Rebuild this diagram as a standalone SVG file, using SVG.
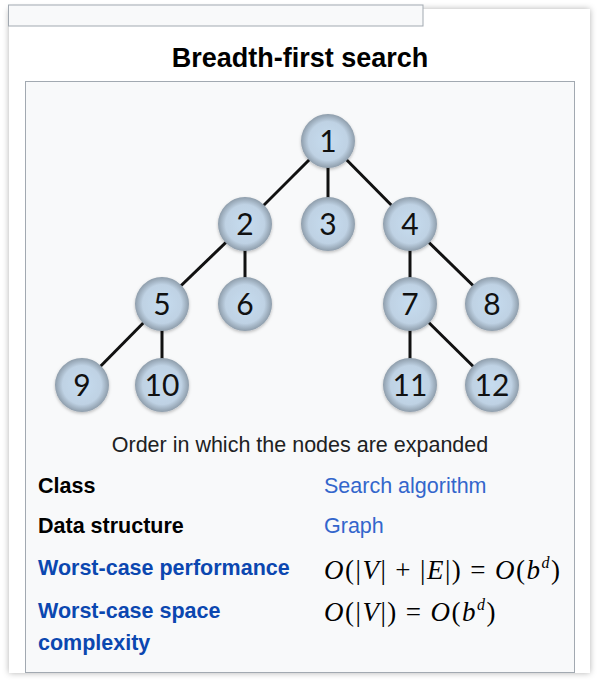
<svg xmlns="http://www.w3.org/2000/svg" width="598" height="682" viewBox="0 0 598 682">
<style>
.edge{stroke:#111;stroke-width:3;fill:none}
.node circle{fill:url(#ng);filter:url(#ns)}
.node text{font-family:Lato,"Liberation Sans",sans-serif;font-size:30px;fill:#111;text-anchor:middle}
.lbl{font-family:"Liberation Sans",Arial,sans-serif;font-size:21.5px;font-weight:bold;fill:#000}
.lnk{fill:#0b47b0}
.val{font-family:"Liberation Sans",Arial,sans-serif;font-size:21.5px;fill:#3366cc}
.math{font-family:"Liberation Serif","Times New Roman",serif;font-size:27px;fill:#000;letter-spacing:1.5px}
.it{font-style:italic}
</style>
<defs>
<radialGradient id="ng" cx="0.5" cy="0.5" r="0.5">
<stop offset="0" stop-color="#c6dcef"/>
<stop offset="0.72" stop-color="#bfd2e4"/>
<stop offset="1" stop-color="#8e9dab"/>
</radialGradient>
<filter id="ns" x="-30%" y="-30%" width="160%" height="160%">
<feDropShadow dx="0" dy="1.5" stdDeviation="1.5" flood-color="#000" flood-opacity="0.25"/>
</filter>
<filter id="ps" x="-5%" y="-5%" width="110%" height="110%">
<feDropShadow dx="0" dy="0" stdDeviation="3" flood-color="#000" flood-opacity="0.3"/>
</filter>
</defs>
<rect width="598" height="682" fill="#fff"/>
<rect x="9" y="9" width="581" height="664" fill="#fff" filter="url(#ps)"/>
<rect x="8.5" y="5" width="414.5" height="21" fill="#f8f9fa" stroke="#a2a9b1" stroke-width="1"/>
<text x="300" y="67" text-anchor="middle" font-family="'Liberation Sans',Arial,sans-serif" font-size="27" font-weight="bold" fill="#000">Breadth-first search</text>
<rect x="25.5" y="81.5" width="549" height="591" fill="#f8f9fa" stroke="#a2a9b1" stroke-width="1"/>
<g id="connectors">
<line class="edge" x1="328" y1="141" x2="245" y2="224"/>
<line class="edge" x1="328" y1="141" x2="328" y2="224"/>
<line class="edge" x1="328" y1="141" x2="410" y2="224"/>
<line class="edge" x1="245" y1="224" x2="162" y2="304"/>
<line class="edge" x1="245" y1="224" x2="245" y2="304"/>
<line class="edge" x1="410" y1="224" x2="410" y2="304"/>
<line class="edge" x1="410" y1="224" x2="492" y2="304"/>
<line class="edge" x1="162" y1="304" x2="82" y2="385"/>
<line class="edge" x1="162" y1="304" x2="162" y2="385"/>
<line class="edge" x1="410" y1="304" x2="410" y2="385"/>
<line class="edge" x1="410" y1="304" x2="492" y2="385"/>
</g>
<g id="n1" class="node"><circle cx="328" cy="141" r="27"/><text x="328" y="152">1</text></g>
<g id="n2" class="node"><circle cx="245" cy="224" r="27"/><text x="245" y="235">2</text></g>
<g id="n3" class="node"><circle cx="328" cy="224" r="27"/><text x="328" y="235">3</text></g>
<g id="n4" class="node"><circle cx="410" cy="224" r="27"/><text x="410" y="235">4</text></g>
<g id="n5" class="node"><circle cx="162" cy="304" r="27"/><text x="162" y="315">5</text></g>
<g id="n6" class="node"><circle cx="245" cy="304" r="27"/><text x="245" y="315">6</text></g>
<g id="n7" class="node"><circle cx="410" cy="304" r="27"/><text x="410" y="315">7</text></g>
<g id="n8" class="node"><circle cx="492" cy="304" r="27"/><text x="492" y="315">8</text></g>
<g id="n9" class="node"><circle cx="82" cy="385" r="27"/><text x="82" y="396">9</text></g>
<g id="n10" class="node"><circle cx="162" cy="385" r="27"/><text x="162" y="396">10</text></g>
<g id="n11" class="node"><circle cx="410" cy="385" r="27"/><text x="410" y="396">11</text></g>
<g id="n12" class="node"><circle cx="492" cy="385" r="27"/><text x="492" y="396">12</text></g>
<text x="300" y="452" text-anchor="middle" font-family="'Liberation Sans',Arial,sans-serif" font-size="21.5" fill="#202122">Order in which the nodes are expanded</text>
<text class="lbl" x="38" y="493">Class</text>
<text class="val" x="324" y="493">Search algorithm</text>
<text class="lbl" x="38" y="533">Data structure</text>
<text class="val" x="324" y="533">Graph</text>
<text class="lbl lnk" x="38" y="575">Worst-case performance</text>
<text class="math" x="324" y="579"><tspan class="it">O</tspan>(|<tspan class="it">V</tspan>|<tspan dx="8">+</tspan><tspan dx="8">|</tspan><tspan class="it">E</tspan>|)<tspan dx="8">=</tspan><tspan class="it" dx="8">O</tspan>(<tspan class="it">b</tspan><tspan class="it" font-size="16" dy="-11">d</tspan><tspan dy="11">)</tspan></text>
<text class="lbl lnk" x="38" y="618">Worst-case space</text>
<text class="lbl lnk" x="38" y="650">complexity</text>
<text class="math" x="324" y="621"><tspan class="it">O</tspan>(|<tspan class="it">V</tspan>|)<tspan dx="8">=</tspan><tspan class="it" dx="8">O</tspan>(<tspan class="it">b</tspan><tspan class="it" font-size="16" dy="-11">d</tspan><tspan dy="11">)</tspan></text>
</svg>
